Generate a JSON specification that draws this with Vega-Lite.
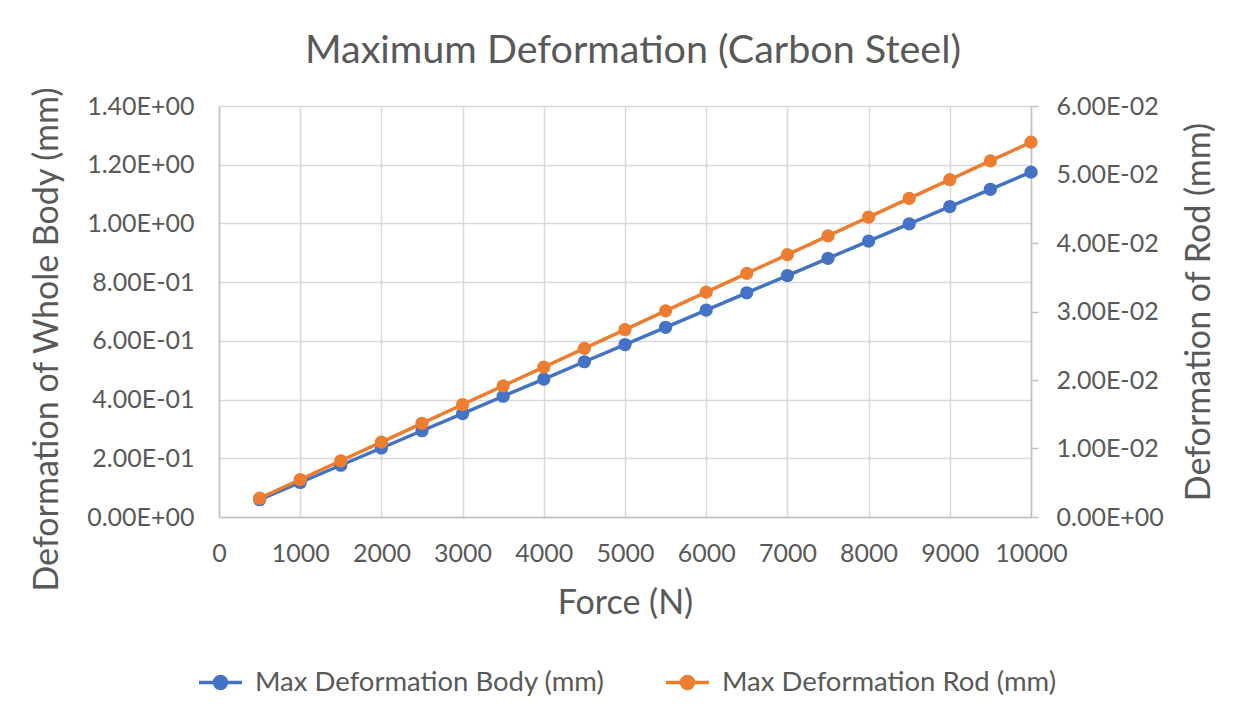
{
  "$schema": "https://vega.github.io/schema/vega-lite/v6.json",
  "width": 812,
  "height": 411,
  "autosize": "none",
  "padding": {"left": 219, "top": 106, "right": 218, "bottom": 206},
  "background": "white",
  "config": {
    "font": "Lato",
    "view": {"stroke": null},
    "axis": {
      "labelColor": "#595959",
      "titleColor": "#595959",
      "titleFontWeight": "normal",
      "domainColor": "#bfbfbf",
      "domainWidth": 1.5,
      "gridColor": "#d9d9d9",
      "gridWidth": 1.5,
      "tickColor": "#bfbfbf",
      "tickWidth": 1.5,
      "labelOverlap": false,
      "labelFlush": false,
      "labelBound": false
    }
  },
  "title": {
    "text": "Maximum Deformation (Carbon Steel)",
    "fontSize": 39.5,
    "fontWeight": "normal",
    "color": "#595959",
    "anchor": "middle",
    "offset": 15,
    "dx": 8
  },
  "data": {
    "values": [
      {"F": 500, "body": 0.0588, "rod": 0.00274},
      {"F": 1000, "body": 0.1175, "rod": 0.00547},
      {"F": 1500, "body": 0.1763, "rod": 0.00821},
      {"F": 2000, "body": 0.2350, "rod": 0.01094},
      {"F": 2500, "body": 0.2938, "rod": 0.01368},
      {"F": 3000, "body": 0.3525, "rod": 0.01642},
      {"F": 3500, "body": 0.4113, "rod": 0.01915},
      {"F": 4000, "body": 0.4700, "rod": 0.02189},
      {"F": 4500, "body": 0.5288, "rod": 0.02462},
      {"F": 5000, "body": 0.5875, "rod": 0.02736},
      {"F": 5500, "body": 0.6463, "rod": 0.03010},
      {"F": 6000, "body": 0.7050, "rod": 0.03283},
      {"F": 6500, "body": 0.7638, "rod": 0.03557},
      {"F": 7000, "body": 0.8225, "rod": 0.03830},
      {"F": 7500, "body": 0.8813, "rod": 0.04104},
      {"F": 8000, "body": 0.9400, "rod": 0.04378},
      {"F": 8500, "body": 0.9988, "rod": 0.04651},
      {"F": 9000, "body": 1.0575, "rod": 0.04925},
      {"F": 9500, "body": 1.1163, "rod": 0.05198},
      {"F": 10000, "body": 1.1750, "rod": 0.05472}
    ]
  },
  "encoding": {
    "x": {
      "field": "F",
      "type": "quantitative",
      "scale": {"domain": [0, 10000], "nice": false},
      "axis": {
        "values": [0, 1000, 2000, 3000, 4000, 5000, 6000, 7000, 8000, 9000, 10000],
        "format": "d",
        "grid": true,
        "ticks": false,
        "labelFontSize": 25,
        "labelPadding": 24,
        "title": "Force (N)",
        "titleFontSize": 34,
        "titlePadding": 20
      }
    }
  },
  "layer": [
    {
      "mark": {"type": "line", "strokeWidth": 3.5, "point": {"filled": true, "size": 175}},
      "encoding": {
        "y": {
          "field": "body",
          "type": "quantitative",
          "scale": {"domain": [0, 1.4], "nice": false},
          "axis": {
            "orient": "left",
            "values": [0, 0.2, 0.4, 0.6, 0.8, 1.0, 1.2, 1.4],
            "labelExpr": "replace(replace(format(datum.value, '.2e'), 'e+', 'E+0'), 'e-', 'E-0')",
            "grid": true,
            "ticks": false,
            "labelFontSize": 25,
            "labelPadding": 25,
            "title": "Deformation of Whole Body (mm)",
            "titleFontSize": 34,
            "titlePadding": 22,
            "titleY": 233
          }
        },
        "color": {
          "datum": "Max Deformation Body (mm)",
          "type": "nominal",
          "scale": {
            "domain": ["Max Deformation Body (mm)", "Max Deformation Rod (mm)"],
            "range": ["#4472C4", "#ED7D31"]
          },
          "legend": {
            "orient": "none",
            "legendX": -22,
            "legendY": 553,
            "direction": "horizontal",
            "title": null,
            "labelFontSize": 27.5,
            "labelColor": "#595959",
            "labelLimit": 0,
            "symbolType": "M-1,0H1M-0.28,0A0.28,0.28,0,1,1,0.28,0A0.28,0.28,0,1,1,-0.28,0Z",
            "symbolSize": 1849,
            "symbolStrokeWidth": 3.5,
            "labelOffset": 11,
            "columnPadding": 54,
            "encode": {
              "symbols": {
                "update": {
                  "fill": {"scale": "color", "field": "value"},
                  "stroke": {"scale": "color", "field": "value"},
                  "opacity": {"value": 1}
                }
              }
            }
          }
        }
      }
    },
    {
      "mark": {"type": "line", "strokeWidth": 3.5, "point": {"filled": true, "size": 175}},
      "encoding": {
        "y": {
          "field": "rod",
          "type": "quantitative",
          "scale": {"domain": [0, 0.06], "nice": false},
          "axis": {
            "orient": "right",
            "values": [0, 0.01, 0.02, 0.03, 0.04, 0.05, 0.06],
            "labelExpr": "replace(replace(format(datum.value, '.2e'), 'e+', 'E+0'), 'e-', 'E-0')",
            "grid": false,
            "ticks": true,
            "tickSize": 7,
            "labelFontSize": 25,
            "labelPadding": 18,
            "title": "Deformation of Rod (mm)",
            "titleFontSize": 34,
            "titleAngle": 270,
            "titlePadding": 53
          }
        },
        "color": {"datum": "Max Deformation Rod (mm)", "type": "nominal"}
      }
    }
  ],
  "resolve": {"scale": {"y": "independent"}}
}
